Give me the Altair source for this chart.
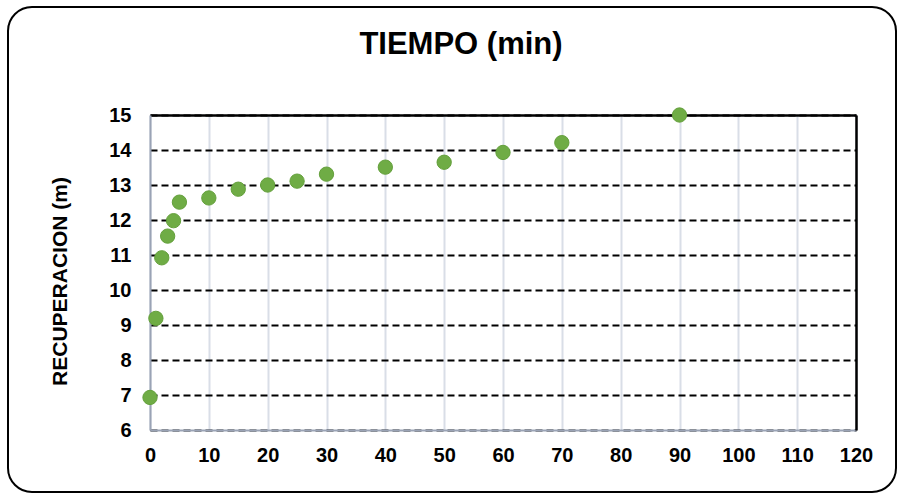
import altair as alt
import pandas as pd

tiempo = [0, 1, 2, 3, 4, 5, 10, 15, 20, 25, 30, 40, 50, 60, 70, 90]
recuperacion = [6.93, 9.19, 10.92, 11.54, 11.98, 12.51, 12.63, 12.88, 13.0, 13.11,
                13.31, 13.51, 13.65, 13.93, 14.21, 15.0]
x_ticks = list(range(0, 121, 10))
y_ticks = list(range(6, 16))

df = pd.DataFrame({"t": tiempo, "r": recuperacion})

FONT = "Liberation Sans"

xscale = alt.Scale(domain=[0, 120], nice=False)
yscale = alt.Scale(domain=[6, 15], nice=False)

frame = alt.Chart(alt.Data(values=[{}])).mark_rect(
    fill="transparent", stroke="black", strokeWidth=2, cornerRadius=24
).encode(
    x=alt.value(-142), x2=alt.value(746), y=alt.value(-108), y2=alt.value(377)
)

# invisible layer that carries the black top/right borders as mirror axes
border = alt.Chart(df).mark_point(opacity=0).encode(
    x=alt.X("t:Q", scale=xscale,
            axis=alt.Axis(orient="top", title=None, labels=False, ticks=False,
                          grid=False, domainColor="black", domainWidth=2.5)),
    y=alt.Y("r:Q", scale=yscale,
            axis=alt.Axis(orient="right", title=None, labels=False, ticks=False,
                          grid=False, domainColor="black", domainWidth=2.5)),
)

points = alt.Chart(df).mark_circle(
    size=205, color="#6fac45", opacity=1, stroke="#64a03c", strokeWidth=1
).encode(
    x=alt.X("t:Q", scale=xscale,
            axis=alt.Axis(values=x_ticks, title=None, grid=True, gridColor="#d9dee7",
                          gridWidth=2, domainColor="#9aa3b5", domainWidth=2,
                          ticks=False, tickSize=0, labelPadding=15, labelFontSize=20,
                          labelFont=FONT, labelFontWeight="bold", labelColor="black",
                          labelFlush=False, labelOverlap=False)),
    y=alt.Y("r:Q", scale=yscale,
            axis=alt.Axis(values=y_ticks, title="RECUPERACION (m)", grid=True,
                          gridColor="black", gridWidth=2, gridDash=[7, 4],
                          domainColor="#9aa3b5", domainWidth=2,
                          ticks=False, tickSize=0, labelPadding=19, labelFontSize=20,
                          labelFont=FONT, labelFontWeight="bold", labelColor="black",
                          labelFlush=False, labelOverlap=False,
                          titleFont=FONT, titleFontSize=21, titleFontWeight="bold",
                          titleColor="black", titleX=-90, titleY=166,
                          titleBaseline="middle", titleAngle=270)),
)

chart = alt.layer(frame, points, border).resolve_axis(
    x="independent", y="independent"
).properties(
    width=706, height=315,
    autosize=alt.AutoSizeParams(type="none"),
    padding={"left": 150, "top": 115, "right": 48, "bottom": 65},
    title=alt.TitleParams("TIEMPO (min)", font=FONT, fontSize=31, fontWeight="bold",
                          color="black", anchor="middle", dx=-42, offset=-79,
                          baseline="alphabetic"),
).configure_view(
    stroke="black", strokeWidth=2.5
).configure(background="white")

chart.save("out.html", embed_options={"renderer": "svg", "actions": False})
